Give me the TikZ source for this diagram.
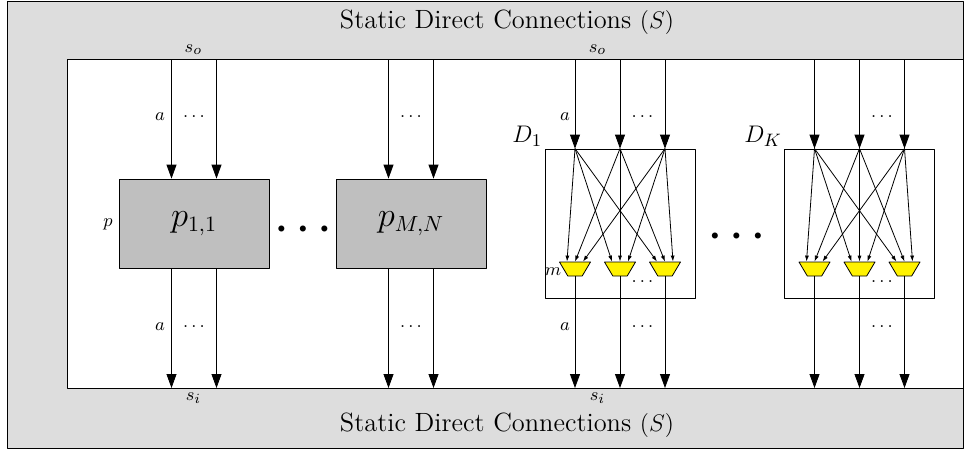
\documentclass[tikz,border=0pt]{standalone}
\usetikzlibrary{arrows.meta,shapes.geometric}
\begin{document}
\begin{tikzpicture}[x=0.5pt,y=-0.5pt,line join=round,
    band/.style={draw,fill=gray!27},
    proc/.style={draw,fill=gray!50,minimum width=75pt,minimum height=44.5pt,inner sep=0,
      font=\fontsize{16}{19}\selectfont},
    dbox/.style={draw,minimum width=75pt,minimum height=74.5pt,inner sep=0},
    mux/.style={draw,fill=yellow,trapezium,shape border rotate=180,trapezium angle=60,
      trapezium stretches=true,minimum width=15.5pt,minimum height=7pt,inner sep=1pt},
    title/.style={font=\fontsize{13.2}{16}\selectfont},
    lbl/.style={font=\fontsize{9.5}{11}\selectfont,inner sep=1pt},
    wire/.style={-{Triangle[length=7pt,width=5pt]}},
    xwire/.style={-{Latex[length=3pt,width=2pt]},thin}]
  \useasboundingbox (0,0) rectangle (969,450);
  % static connections around, inner area
  \draw[band] (7,1) rectangle (963,448);
  \draw[fill=white] (67,59) rectangle (963,388);
  \coordinate (so) at (67,59);
  \coordinate (si) at (67,388);
  \node[title] (top) at (507,22) {Static Direct Connections $(S)$};
  \node[title] (bot) at (507,425) {Static Direct Connections $(S)$};

  % processors
  \node[proc] (p11) at (194,223.5) {$p_{1,1}$};
  \node[proc] (pmn) at (411,223.5) {$p_{M,N}$};
  \foreach \b in {p11,pmn}{
    \foreach \x/\n in {-11.25pt/1,11.25pt/2}{
      \coordinate (\b-in\n) at ([xshift=\x]\b.north);
      \coordinate (\b-out\n) at ([xshift=\x]\b.south);
      \draw[wire] (\b-in\n |- so) -- (\b-in\n);
      \draw[wire] (\b-out\n) -- (\b-out\n |- si);
    }
  }

  % dynamic blocks with muxes
  \node[dbox] (d1) at (620,223.5) {};
  \node[dbox] (dk) at (859.5,223.5) {};
  \foreach \b in {d1,dk}{
    \foreach \x/\n in {-22.5pt/1,0pt/2,22.5pt/3}{
      \coordinate (\b-in\n) at ([xshift=\x]\b.north);
      \node[mux] (\b-m\n) at ([xshift=\x,yshift=-22.75pt]\b.center) {};
      \draw[wire] (\b-in\n |- so) -- (\b-in\n);
      \draw[wire] (\b-m\n.south) -- (\b-m\n.south |- si);
    }
    \foreach \i in {1,2,3}
      \foreach \j/\o in {1/-4pt,2/0pt,3/4pt}
        \draw[xwire] (\b-in\j) -- ([xshift=\o]\b-m\i.north);
  }
  \node[title,anchor=south east,inner sep=1pt] (d1l) at (d1.north west) {$D_1$};
  \node[title,anchor=south east,inner sep=1pt] (dkl) at (dk.north west) {$D_K$};

  % labels
  \node[lbl] (so1) at (193.5,50) {$s_o$};
  \node[lbl] (so2) at (597.5,50) {$s_o$};
  \node[lbl] (si1) at (193.5,398) {$s_i$};
  \node[lbl] (si2) at (597.5,398) {$s_i$};
  \foreach \x/\y [count=\k] in {160/117,160/327,565/117,565/327}
    \node[lbl] (a\k) at (\x,\y) {$a$};
  \foreach \x/\y [count=\k] in {194/117,194/327,411/117,411/327,642.5/117,642.5/282,
      642.5/327,882/117,882/282,882/327}
    \node[lbl] (dots\k) at (\x,\y) {$\dots$};
  \node[lbl] (plbl) at (108,224) {$p$};
  \node[lbl] (mlbl) at (553,272) {$m$};
  \node[font=\fontsize{7}{8}\selectfont] (more1) at (303,229)
    {${\bullet}\hspace{6.7pt}{\bullet}\hspace{6.7pt}{\bullet}$};
  \node[font=\fontsize{7}{8}\selectfont] (more2) at (736.5,236)
    {${\bullet}\hspace{6.7pt}{\bullet}\hspace{6.7pt}{\bullet}$};
\end{tikzpicture}
\end{document}
